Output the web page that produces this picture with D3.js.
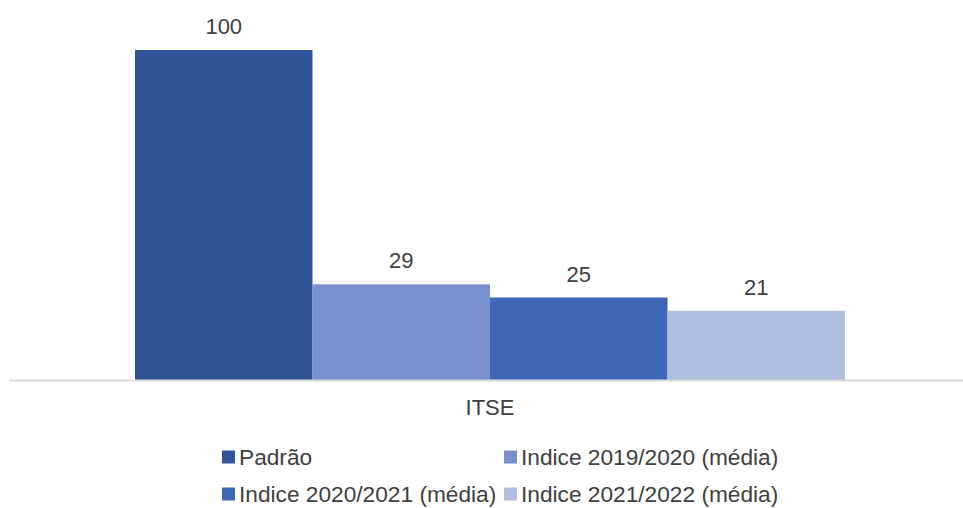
<!DOCTYPE html>
<html>
<head>
<meta charset="utf-8">
<script src="https://cdn.jsdelivr.net/npm/d3@7"></script>
<style>
  html, body { margin: 0; padding: 0; background: #fff; }
  svg { display: block; }
  text { font-family: "Liberation Sans", Arial, Helvetica, sans-serif; fill: #404040; }
</style>
</head>
<body>
<svg id="chart" width="963" height="508"></svg>
<script>
// Data
const category = "ITSE";
const seriesNames = ["Padrão", "Indice 2019/2020 (média)", "Indice 2020/2021 (média)", "Indice 2021/2022 (média)"];
const seriesValues = [100, 29, 25, 21];
const seriesColors = ["#2F5597", "#7890CD", "#3E68B5", "#B1BEE0"];

const svg = d3.select("#chart");
const W = 963;

// Scales
const x = d3.scaleBand().domain([category]).range([135, 845]).paddingInner(0).paddingOuter(0);
const xs = d3.scaleBand().domain(seriesNames).range([0, x.bandwidth()]).padding(0);
const y = d3.scaleLinear().domain([0, 100]).range([380, 50]);

// Bars
const g = svg.append("g");
g.selectAll("rect.bar")
  .data(seriesNames)
  .join("rect")
  .attr("class", "bar")
  .attr("x", d => x(category) + xs(d))
  .attr("y", (d, i) => y(seriesValues[i]))
  .attr("width", xs.bandwidth())
  .attr("height", (d, i) => y(0) - y(seriesValues[i]))
  .attr("fill", (d, i) => seriesColors[i]);

// Value labels
g.selectAll("text.val")
  .data(seriesNames)
  .join("text")
  .attr("class", "val")
  .attr("x", d => x(category) + xs(d) + xs.bandwidth() / 2)
  .attr("y", (d, i) => y(seriesValues[i]) - 16)
  .attr("text-anchor", "middle")
  .style("font-size", "22px")
  .text((d, i) => seriesValues[i]);

// Category axis
const axis = d3.axisBottom(d3.scaleBand().domain([category]).range([9, W])).tickSize(0).tickPadding(0);
const ax = svg.append("g").attr("transform", `translate(0,${y(0)})`).call(axis);
ax.select(".domain").attr("stroke", "#D9D9D9").attr("stroke-width", 2);
ax.selectAll(".tick text")
  .attr("x", x(category) + x.bandwidth() / 2 - (9 + (W - 9) / 2))
  .attr("dy", 0)
  .attr("y", 35)
  .style("font-size", "22px")
  .style("font-family", "'Liberation Sans', Arial, sans-serif")
  .attr("fill", "#404040");

// Legend (2 x 2)
const legendPos = [
  { sx: 222, ty: 457 },
  { sx: 504, ty: 457 },
  { sx: 222, ty: 494 },
  { sx: 504, ty: 494 }
];
const lg = svg.append("g").selectAll("g")
  .data(seriesNames)
  .join("g")
  .attr("transform", (d, i) => `translate(${legendPos[i].sx},${legendPos[i].ty})`);
lg.append("rect")
  .attr("x", 0).attr("y", -6.5)
  .attr("width", 13).attr("height", 13)
  .attr("fill", (d, i) => seriesColors[i]);
lg.append("text")
  .attr("x", 17)
  .attr("y", 0)
  .attr("dy", "0.35em")
  .style("font-size", "22.7px")
  .text(d => d);
</script>
</body>
</html>
